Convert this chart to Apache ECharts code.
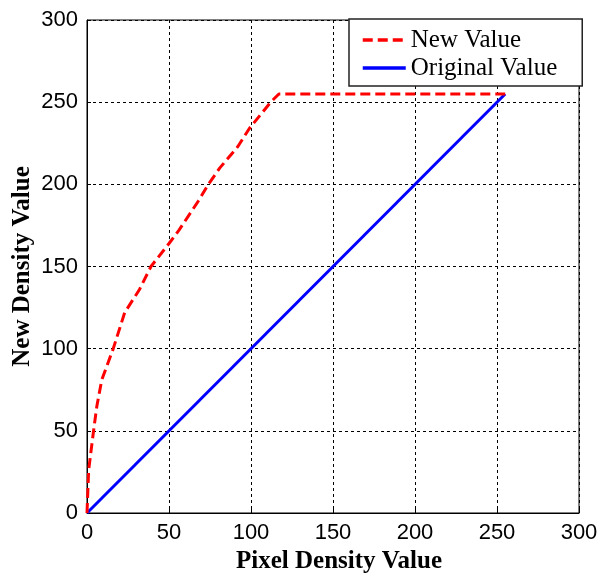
<!DOCTYPE html>
<html>
<head>
<meta charset="utf-8">
<script src="https://cdn.jsdelivr.net/npm/echarts@6/dist/echarts.min.js"></script>
<style>html,body{margin:0;padding:0;background:#fff}#c{width:601px;height:579px}</style>
</head>
<body>
<div id="c"></div>
<script>
var xTicks = [0, 50, 100, 150, 200, 250, 300];
var yTicks = [0, 50, 100, 150, 200, 250, 300];
var seriesNames = ['New Value', 'Original Value'];
var newX = [0, 1, 4, 6, 9, 16, 23, 32, 39, 50, 56, 68, 74, 81, 92, 99, 112, 117, 255];
var newY = [0, 26, 50, 65, 81, 100, 122, 136, 150, 164, 172, 190, 200, 210, 223, 234, 250, 255, 255];
var origX = [0, 255];
var origY = [0, 255];

function pairs(xs, ys) { return xs.map(function (x, i) { return [x, ys[i]]; }); }

var chart = echarts.init(document.getElementById('c'));
var tickFont = { color: '#000', fontFamily: 'Liberation Sans, Arial, sans-serif', fontSize: 22 };
var nameFont = { color: '#000', fontFamily: 'Liberation Serif, Times New Roman, serif', fontSize: 25, fontWeight: 'bold' };
chart.setOption({
  animation: false,
  backgroundColor: '#fff',
  grid: { left: 87, right: 22, top: 20, bottom: 66, show: true, borderColor: '#000', borderWidth: 1, outerBoundsMode: 'none', containLabel: false },
  xAxis: {
    type: 'value', min: xTicks[0], max: xTicks[xTicks.length - 1], interval: 50,
    name: 'Pixel Density Value', nameLocation: 'middle', nameGap: 36, nameMoveOverlap: false,
    nameTextStyle: Object.assign({ padding: [0, 0, 0, 12] }, nameFont),
    axisLine: { show: true, lineStyle: { color: '#000', width: 1 } },
    axisTick: { show: true, inside: true, length: 4, lineStyle: { color: '#000' } },
    axisLabel: Object.assign({ margin: 9 }, tickFont),
    splitLine: { show: true, lineStyle: { color: '#000', type: [3, 3], width: 1 } }
  },
  yAxis: {
    type: 'value', min: yTicks[0], max: yTicks[yTicks.length - 1], interval: 50,
    name: 'New Density Value', nameLocation: 'middle', nameGap: 52, nameRotate: 90, nameMoveOverlap: false,
    nameTextStyle: nameFont,
    axisLine: { show: true, lineStyle: { color: '#000', width: 1 } },
    axisTick: { show: true, inside: true, length: 4, lineStyle: { color: '#000' } },
    axisLabel: Object.assign({ margin: 9 }, tickFont),
    splitLine: { show: true, lineStyle: { color: '#000', type: [3, 3], width: 1 } }
  },
  legend: {
    orient: 'vertical', left: 349, top: 19,
    padding: [8, 25, 5, 12], itemGap: 2, itemWidth: 43, itemHeight: 14,
    backgroundColor: '#fff', borderColor: '#222', borderWidth: 1.5,
    itemStyle: { opacity: 0 },
    lineStyle: { width: 3.5 },
    textStyle: { color: '#000', fontFamily: 'Liberation Serif, Times New Roman, serif', fontSize: 25, lineHeight: 26 },
    data: seriesNames
  },
  series: [
    {
      name: seriesNames[0], type: 'line', symbol: 'none', z: 3,
      lineStyle: { color: '#ff0000', width: 3, type: [10, 5] },
      itemStyle: { color: '#ff0000' },
      data: pairs(newX, newY)
    },
    {
      name: seriesNames[1], type: 'line', symbol: 'none', z: 2,
      lineStyle: { color: '#0000ff', width: 3 },
      itemStyle: { color: '#0000ff' },
      data: pairs(origX, origY)
    }
  ]
});
</script>
</body>
</html>
